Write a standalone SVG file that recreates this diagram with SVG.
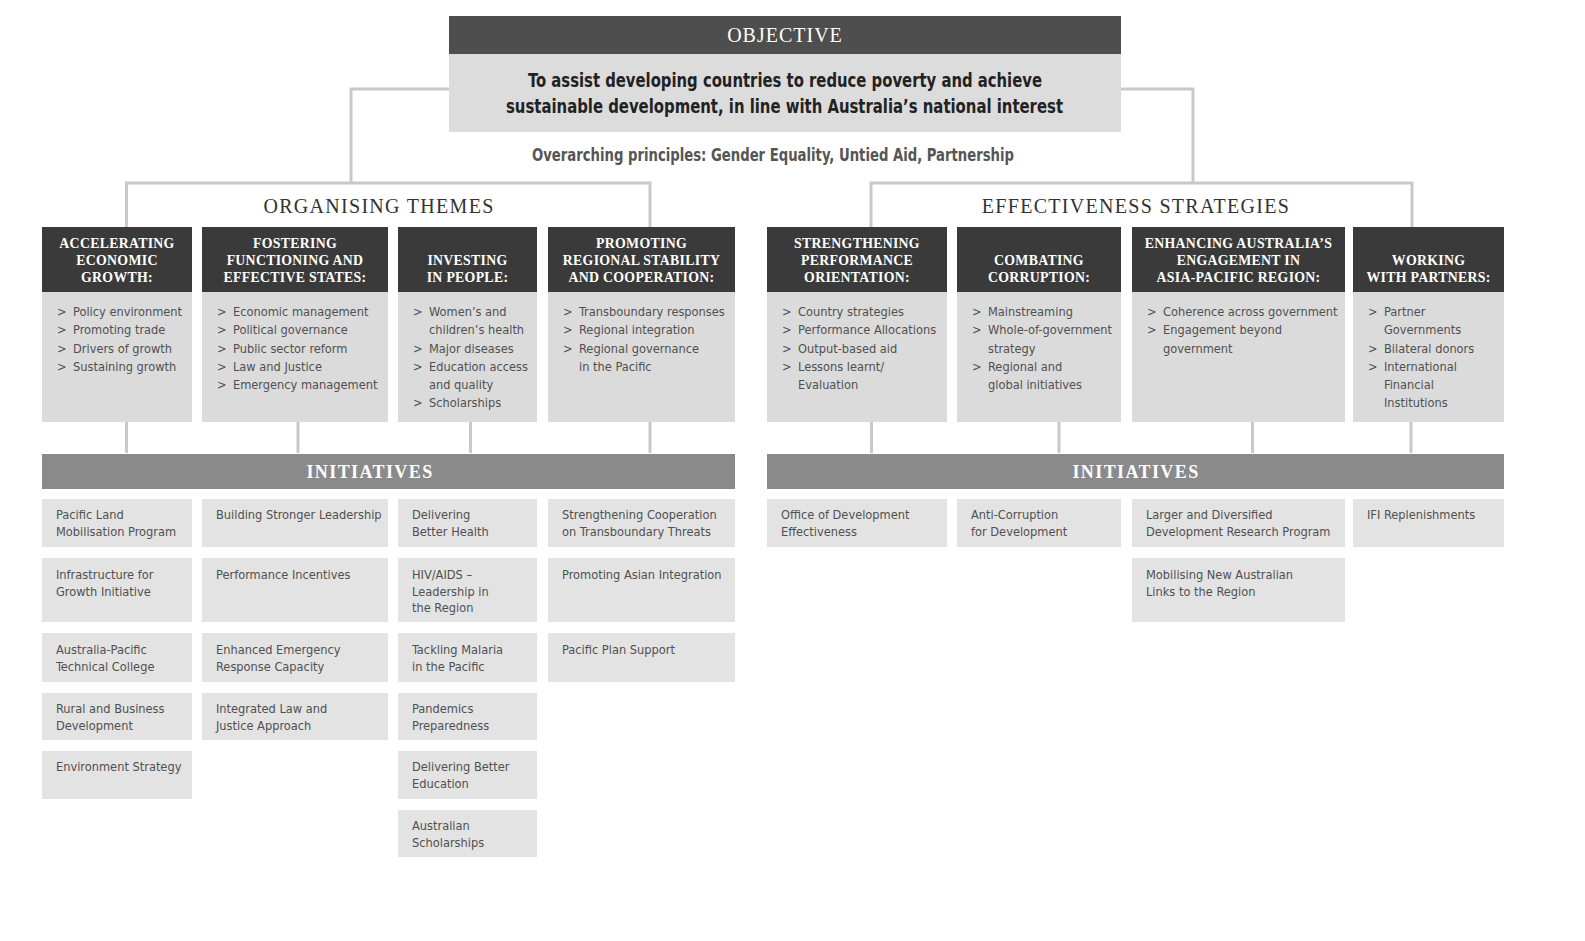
<svg xmlns="http://www.w3.org/2000/svg" width="1585" height="941" viewBox="0 0 1585 941">
<style>
.conn{stroke:#c9c9c9;stroke-width:3;fill:none}
.hd{fill:#3a3a3a}
.bd{fill:#dbdbdb}
.ib{fill:#e3e3e3}
.bar{fill:#8a8a8a}
.ht{font-family:"Liberation Serif",serif;font-weight:bold;font-size:13.8px;fill:#fff;text-anchor:middle;letter-spacing:0.3px}
.bt{font-family:"DejaVu Sans Condensed","Liberation Sans",sans-serif;font-size:12.7px;fill:#505050}
.gt{font-family:"Liberation Serif",serif;font-size:20px;fill:#333;text-anchor:middle;letter-spacing:1.3px}
.it{font-family:"Liberation Serif",serif;font-weight:bold;font-size:18px;fill:#fff;text-anchor:middle;letter-spacing:1.4px}
.ob{font-family:"DejaVu Sans Condensed","Liberation Sans",sans-serif;font-weight:bold;font-size:20px;fill:#222}
</style>
<rect width="1585" height="941" fill="#fff"/>
<g id="connectors">
<path class="conn" d="M449 89H351V183M126.5 227V183H650V227"/>
<path class="conn" d="M1121 89H1193V183M871 227V183H1412V227"/>
<path class="conn" d="M126.5 422V453M298 422V453M470.5 422V453M650 422V453M871.5 422V453M1059 422V453M1252.5 422V453M1411 422V453"/>
</g>
<g id="objective">
<rect x="449" y="16" width="672" height="38" fill="#4e4e4e"/>
<rect x="449" y="54" width="672" height="78" fill="#dcdcdc"/>
<text x="785" y="42" font-family="Liberation Serif,serif" font-size="20" fill="#fff" text-anchor="middle" letter-spacing="1">OBJECTIVE</text>
<text class="ob" x="528" y="87" textLength="514" lengthAdjust="spacingAndGlyphs">To assist developing countries to reduce poverty and achieve</text>
<text class="ob" x="506" y="113" textLength="557" lengthAdjust="spacingAndGlyphs">sustainable development, in line with Australia’s national interest</text>
</g>
<g id="principles"><text x="532" y="161" textLength="482" lengthAdjust="spacingAndGlyphs" font-family="DejaVu Sans Condensed,Liberation Sans,sans-serif" font-weight="bold" font-size="17" fill="#555">Overarching principles: Gender Equality, Untied Aid, Partnership</text></g>
<g id="organising-themes"><text class="gt" x="379" y="213">ORGANISING THEMES</text></g>
<g id="effectiveness-strategies"><text class="gt" x="1136" y="213">EFFECTIVENESS STRATEGIES</text></g>

<g id="theme-growth">
<rect class="hd" x="42" y="227" width="150" height="65"/><rect class="bd" x="42" y="292" width="150" height="130"/>
<text class="ht"><tspan x="117" y="248">ACCELERATING</tspan><tspan x="117" y="265">ECONOMIC</tspan><tspan x="117" y="282">GROWTH:</tspan></text>
<text class="bt"><tspan x="57" y="316">&gt;</tspan><tspan x="73" y="316">Policy environment</tspan><tspan x="57" y="334">&gt;</tspan><tspan x="73" y="334">Promoting trade</tspan><tspan x="57" y="352.5">&gt;</tspan><tspan x="73" y="352.5">Drivers of growth</tspan><tspan x="57" y="370.5">&gt;</tspan><tspan x="73" y="370.5">Sustaining growth</tspan></text>
</g>
<g id="theme-states">
<rect class="hd" x="202" y="227" width="186" height="65"/><rect class="bd" x="202" y="292" width="186" height="130"/>
<text class="ht"><tspan x="295" y="248">FOSTERING</tspan><tspan x="295" y="265">FUNCTIONING AND</tspan><tspan x="295" y="282">EFFECTIVE STATES:</tspan></text>
<text class="bt"><tspan x="217" y="316">&gt;</tspan><tspan x="233" y="316">Economic management</tspan><tspan x="217" y="334">&gt;</tspan><tspan x="233" y="334">Political governance</tspan><tspan x="217" y="352.5">&gt;</tspan><tspan x="233" y="352.5">Public sector reform</tspan><tspan x="217" y="370.5">&gt;</tspan><tspan x="233" y="370.5">Law and Justice</tspan><tspan x="217" y="389">&gt;</tspan><tspan x="233" y="389">Emergency management</tspan></text>
</g>
<g id="theme-people">
<rect class="hd" x="398" y="227" width="139" height="65"/><rect class="bd" x="398" y="292" width="139" height="130"/>
<text class="ht"><tspan x="467.5" y="265">INVESTING</tspan><tspan x="467.5" y="282">IN PEOPLE:</tspan></text>
<text class="bt"><tspan x="413" y="316">&gt;</tspan><tspan x="429" y="316">Women’s and</tspan><tspan x="429" y="334">children’s health</tspan><tspan x="413" y="352.5">&gt;</tspan><tspan x="429" y="352.5">Major diseases</tspan><tspan x="413" y="370.5">&gt;</tspan><tspan x="429" y="370.5">Education access</tspan><tspan x="429" y="389">and quality</tspan><tspan x="413" y="407">&gt;</tspan><tspan x="429" y="407">Scholarships</tspan></text>
</g>
<g id="theme-stability">
<rect class="hd" x="548" y="227" width="187" height="65"/><rect class="bd" x="548" y="292" width="187" height="130"/>
<text class="ht"><tspan x="641.5" y="248">PROMOTING</tspan><tspan x="641.5" y="265">REGIONAL STABILITY</tspan><tspan x="641.5" y="282">AND COOPERATION:</tspan></text>
<text class="bt"><tspan x="563" y="316">&gt;</tspan><tspan x="579" y="316">Transboundary responses</tspan><tspan x="563" y="334">&gt;</tspan><tspan x="579" y="334">Regional integration</tspan><tspan x="563" y="352.5">&gt;</tspan><tspan x="579" y="352.5">Regional governance</tspan><tspan x="579" y="370.5">in the Pacific</tspan></text>
</g>
<g id="strategy-performance">
<rect class="hd" x="767" y="227" width="180" height="65"/><rect class="bd" x="767" y="292" width="180" height="130"/>
<text class="ht"><tspan x="857" y="248">STRENGTHENING</tspan><tspan x="857" y="265">PERFORMANCE</tspan><tspan x="857" y="282">ORIENTATION:</tspan></text>
<text class="bt"><tspan x="782" y="316">&gt;</tspan><tspan x="798" y="316">Country strategies</tspan><tspan x="782" y="334">&gt;</tspan><tspan x="798" y="334">Performance Allocations</tspan><tspan x="782" y="352.5">&gt;</tspan><tspan x="798" y="352.5">Output-based aid</tspan><tspan x="782" y="370.5">&gt;</tspan><tspan x="798" y="370.5">Lessons learnt/</tspan><tspan x="798" y="389">Evaluation</tspan></text>
</g>
<g id="strategy-corruption">
<rect class="hd" x="957" y="227" width="164" height="65"/><rect class="bd" x="957" y="292" width="164" height="130"/>
<text class="ht"><tspan x="1039" y="265">COMBATING</tspan><tspan x="1039" y="282">CORRUPTION:</tspan></text>
<text class="bt"><tspan x="972" y="316">&gt;</tspan><tspan x="988" y="316">Mainstreaming</tspan><tspan x="972" y="334">&gt;</tspan><tspan x="988" y="334">Whole-of-government</tspan><tspan x="988" y="352.5">strategy</tspan><tspan x="972" y="370.5">&gt;</tspan><tspan x="988" y="370.5">Regional and</tspan><tspan x="988" y="389">global initiatives</tspan></text>
</g>
<g id="strategy-engagement">
<rect class="hd" x="1132" y="227" width="213" height="65"/><rect class="bd" x="1132" y="292" width="213" height="130"/>
<text class="ht"><tspan x="1238.5" y="248">ENHANCING AUSTRALIA’S</tspan><tspan x="1238.5" y="265">ENGAGEMENT IN</tspan><tspan x="1238.5" y="282">ASIA-PACIFIC REGION:</tspan></text>
<text class="bt"><tspan x="1147" y="316">&gt;</tspan><tspan x="1163" y="316">Coherence across government</tspan><tspan x="1147" y="334">&gt;</tspan><tspan x="1163" y="334">Engagement beyond</tspan><tspan x="1163" y="352.5">government</tspan></text>
</g>
<g id="strategy-partners">
<rect class="hd" x="1353" y="227" width="151" height="65"/><rect class="bd" x="1353" y="292" width="151" height="130"/>
<text class="ht"><tspan x="1428.5" y="265">WORKING</tspan><tspan x="1428.5" y="282">WITH PARTNERS:</tspan></text>
<text class="bt"><tspan x="1368" y="316">&gt;</tspan><tspan x="1384" y="316">Partner</tspan><tspan x="1384" y="334">Governments</tspan><tspan x="1368" y="352.5">&gt;</tspan><tspan x="1384" y="352.5">Bilateral donors</tspan><tspan x="1368" y="370.5">&gt;</tspan><tspan x="1384" y="370.5">International</tspan><tspan x="1384" y="389">Financial</tspan><tspan x="1384" y="407">Institutions</tspan></text>
</g>

<g id="initiatives-left"><rect class="bar" x="42" y="454" width="693" height="35"/><text class="it" x="370" y="478">INITIATIVES</text></g>
<g id="initiatives-right"><rect class="bar" x="767" y="454" width="737" height="35"/><text class="it" x="1136" y="478">INITIATIVES</text></g>

<g id="init-c1">
<rect class="ib" x="42" y="499" width="150" height="48"/><text class="bt"><tspan x="56" y="519">Pacific Land</tspan><tspan x="56" y="536">Mobilisation Program</tspan></text>
<rect class="ib" x="42" y="558" width="150" height="64"/><text class="bt"><tspan x="56" y="579">Infrastructure for</tspan><tspan x="56" y="596">Growth Initiative</tspan></text>
<rect class="ib" x="42" y="633" width="150" height="49"/><text class="bt"><tspan x="56" y="654">Australia-Pacific</tspan><tspan x="56" y="671">Technical College</tspan></text>
<rect class="ib" x="42" y="693" width="150" height="47"/><text class="bt"><tspan x="56" y="713">Rural and Business</tspan><tspan x="56" y="730">Development</tspan></text>
<rect class="ib" x="42" y="751" width="150" height="48"/><text class="bt"><tspan x="56" y="771">Environment Strategy</tspan></text>
</g>
<g id="init-c2">
<rect class="ib" x="202" y="499" width="186" height="48"/><text class="bt"><tspan x="216" y="519">Building Stronger Leadership</tspan></text>
<rect class="ib" x="202" y="558" width="186" height="64"/><text class="bt"><tspan x="216" y="579">Performance Incentives</tspan></text>
<rect class="ib" x="202" y="633" width="186" height="49"/><text class="bt"><tspan x="216" y="654">Enhanced Emergency</tspan><tspan x="216" y="671">Response Capacity</tspan></text>
<rect class="ib" x="202" y="693" width="186" height="47"/><text class="bt"><tspan x="216" y="713">Integrated Law and</tspan><tspan x="216" y="730">Justice Approach</tspan></text>
</g>
<g id="init-c3">
<rect class="ib" x="398" y="499" width="139" height="48"/><text class="bt"><tspan x="412" y="519">Delivering</tspan><tspan x="412" y="536">Better Health</tspan></text>
<rect class="ib" x="398" y="558" width="139" height="64"/><text class="bt"><tspan x="412" y="579">HIV/AIDS –</tspan><tspan x="412" y="596">Leadership in</tspan><tspan x="412" y="612">the Region</tspan></text>
<rect class="ib" x="398" y="633" width="139" height="49"/><text class="bt"><tspan x="412" y="654">Tackling Malaria</tspan><tspan x="412" y="671">in the Pacific</tspan></text>
<rect class="ib" x="398" y="693" width="139" height="47"/><text class="bt"><tspan x="412" y="713">Pandemics</tspan><tspan x="412" y="730">Preparedness</tspan></text>
<rect class="ib" x="398" y="751" width="139" height="48"/><text class="bt"><tspan x="412" y="771">Delivering Better</tspan><tspan x="412" y="788">Education</tspan></text>
<rect class="ib" x="398" y="810" width="139" height="47"/><text class="bt"><tspan x="412" y="830">Australian</tspan><tspan x="412" y="847">Scholarships</tspan></text>
</g>
<g id="init-c4">
<rect class="ib" x="548" y="499" width="187" height="48"/><text class="bt"><tspan x="562" y="519">Strengthening Cooperation</tspan><tspan x="562" y="536">on Transboundary Threats</tspan></text>
<rect class="ib" x="548" y="558" width="187" height="64"/><text class="bt"><tspan x="562" y="579">Promoting Asian Integration</tspan></text>
<rect class="ib" x="548" y="633" width="187" height="49"/><text class="bt"><tspan x="562" y="654">Pacific Plan Support</tspan></text>
</g>
<g id="init-c5">
<rect class="ib" x="767" y="499" width="180" height="48"/><text class="bt"><tspan x="781" y="519">Office of Development</tspan><tspan x="781" y="536">Effectiveness</tspan></text>
</g>
<g id="init-c6">
<rect class="ib" x="957" y="499" width="164" height="48"/><text class="bt"><tspan x="971" y="519">Anti-Corruption</tspan><tspan x="971" y="536">for Development</tspan></text>
</g>
<g id="init-c7">
<rect class="ib" x="1132" y="499" width="213" height="48"/><text class="bt"><tspan x="1146" y="519">Larger and Diversified</tspan><tspan x="1146" y="536">Development Research Program</tspan></text>
<rect class="ib" x="1132" y="558" width="213" height="64"/><text class="bt"><tspan x="1146" y="579">Mobilising New Australian</tspan><tspan x="1146" y="596">Links to the Region</tspan></text>
</g>
<g id="init-c8">
<rect class="ib" x="1353" y="499" width="151" height="48"/><text class="bt"><tspan x="1367" y="519">IFI Replenishments</tspan></text>
</g>
</svg>
